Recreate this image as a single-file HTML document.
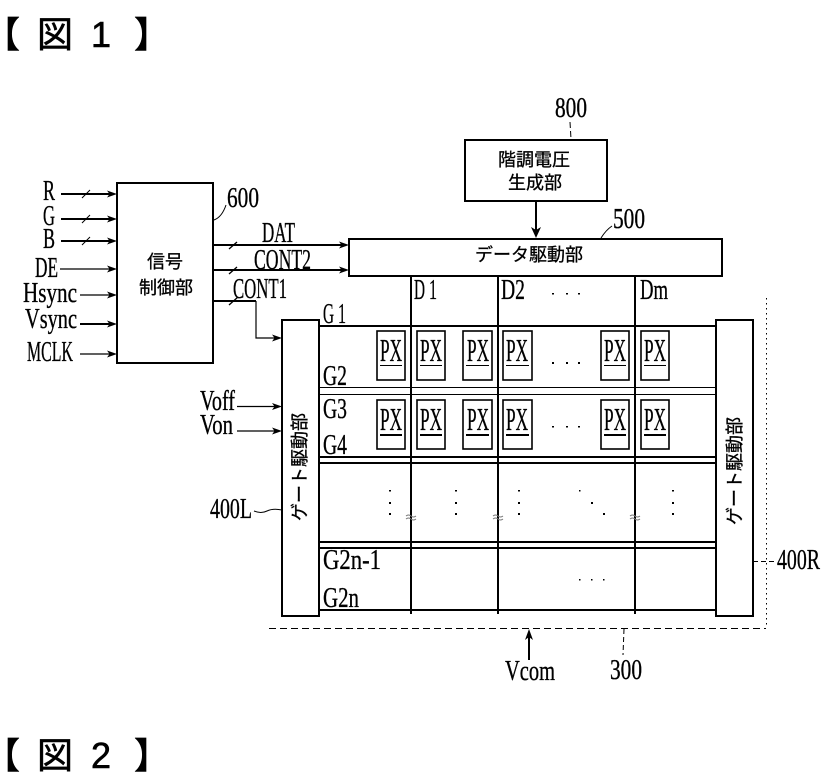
<!DOCTYPE html>
<html><head><meta charset="utf-8"><style>
html,body{margin:0;padding:0;background:#fff}
svg{display:block}
.l{font-family:"Liberation Serif",serif;font-size:29px;fill:#000;stroke:#000;stroke-width:.35px}
.j{font-family:"Liberation Sans","Noto Sans CJK JP",sans-serif;font-size:18px;fill:#000;stroke:#000;stroke-width:.3px;text-anchor:middle}
.t{font-family:"Liberation Sans","Noto Sans CJK JP",sans-serif;font-size:36px;fill:#000;stroke:#000;stroke-width:.6px;text-anchor:middle}
.p{font-family:"Liberation Serif",serif;font-size:32px;fill:#000;stroke:#000;stroke-width:.3px}
</style></head><body>
<svg width="824" height="783" viewBox="0 0 824 783" xmlns="http://www.w3.org/2000/svg">
<rect width="824" height="783" fill="#fff"/>
<!-- titles -->
<text class="t" x="2" y="47">【</text><text class="t" x="55" y="47">図</text><text class="t" x="101" y="47">1</text><text class="t" x="152" y="47">】</text>
<text class="t" x="2" y="768">【</text><text class="t" x="55" y="768">図</text><text class="t" x="101" y="768">2</text><text class="t" x="152" y="768">】</text>

<g fill="none" stroke="#000" stroke-width="2">
<rect x="117" y="183" width="96" height="180"/>
<rect x="465" y="140" width="142" height="61"/>
<rect x="349" y="239" width="373" height="37"/>
<rect x="282" y="320" width="37" height="296"/>
<rect x="716" y="320" width="37" height="296"/>
<!-- data lines -->
<path d="M411 276V614M498 276V614M635 276V614"/>
<!-- gate lines -->
<path d="M319 326H716M319 457H716M319 463H716M319 542H716M319 548H716M319 610H716"/>
<path d="M319 387.5H716M319 394.5H716" stroke-width="1"/>
<!-- px boxes -->
<g stroke-width="1.6">
<rect x="377" y="331" width="28" height="49"/><rect x="417" y="331" width="28" height="49"/><rect x="463" y="331" width="29" height="49"/><rect x="503" y="331" width="29" height="49"/><rect x="601" y="331" width="28" height="49"/><rect x="641" y="331" width="28" height="49"/>
<rect x="377" y="400" width="28" height="49"/><rect x="417" y="400" width="28" height="49"/><rect x="463" y="400" width="29" height="49"/><rect x="503" y="400" width="29" height="49"/><rect x="601" y="400" width="28" height="49"/><rect x="641" y="400" width="28" height="49"/>
</g>
<g stroke-width="1"><path d="M380 365.500H402M420 365.500H442M466 365.500H489M506 365.500H529M604 365.500H626M644 365.500H666"/></g>
<path d="M380 435H402M420 435H442M466 435H489M506 435H529M604 435H626M644 435H666"/>
<!-- inputs -->
<path d="M61 194H110M61 219H110M61 241H110M80 324H110"/>
<path d="M60 269H110M80 295H110M80 354H110" stroke-width="1.200"/>
<path d="M237 406.500H276M237 431H276" stroke-width="1.200"/>
<path d="M82 198L90 190M82 223L90 215M82 245L90 237" stroke-width="1"/>
<!-- outputs -->
<path d="M213 245H344M213 270H344M213 301H256"/>
<path d="M256 301V338H276" stroke-width="1.200"/>
<path d="M229 249L237 242M229 274L237 267M229 305L238 297" stroke-width="1.300"/>
<path d="M536 201V232"/>
<path d="M529 660V636"/>
</g>
<!-- arrowheads -->
<g fill="#000">
<path d="M117 194l-10-3.500 2.500 3.500-2.500 3.500zM117 219l-10-3.500 2.500 3.500-2.500 3.500zM117 241l-10-3.500 2.500 3.500-2.500 3.500zM117 269l-10-3.500 2.500 3.500-2.500 3.500zM117 295l-10-3.500 2.500 3.500-2.500 3.500zM117 324l-10-3.500 2.500 3.500-2.500 3.500zM117 354l-10-3.500 2.500 3.500-2.500 3.500z"/>
<path d="M282 338l-10-3.500 2.500 3.500-2.500 3.500zM282 406.500l-10-3.500 2.500 3.500-2.500 3.500zM282 431l-10-3.500 2.500 3.500-2.500 3.500z"/>
<path d="M349 245l-10-3.500 2.500 3.500-2.500 3.500zM349 270l-10-3.500 2.500 3.500-2.500 3.500z"/>
<path d="M536 238l-5-11 5 3 5-3z"/>
<path d="M529 629l-4 11 4-3 4 3z"/>
</g>
<!-- dashed frame and leaders -->
<g fill="none" stroke="#000" stroke-width="1">
<path d="M269 628.500H766" stroke-dasharray="7 4"/>
<path d="M766.500 298V628" stroke-dasharray="1.500 3.500"/>
<path d="M624 629L623 655" stroke-dasharray="5 3"/>
<path d="M753 561.500H774" stroke-dasharray="5 3"/>
<path d="M214 220Q222 217 226 205"/>
<path d="M570 122L571 139" stroke-dasharray="6 3"/>
<path d="M601 238Q606 230 612 226"/>
<path d="M254 511Q261 514 267 511T282 510"/>
<path d="M406 516q2.500-2 5 0t5 0M406 519q2.500-2 5 0t5 0M493 516q2.500-2 5 0t5 0M493 519q2.500-2 5 0t5 0M630 516q2.500-2 5 0t5 0M630 519q2.500-2 5 0t5 0" stroke="#777"/>
</g>
<!-- dots -->
<g fill="#000">
<path d="M552 293h2v1.500h-2zM566 293h2v1.500h-2zM578 293h2v1.500h-2zM552 362h2v2h-2zM566 362h2v2h-2zM578 362h2v2h-2zM552 426h2v1.500h-2zM566 426h2v1.500h-2zM578 426h2v1.500h-2z"/>
<path d="M389 490h2v1.500h-2zM389 502h2v2h-2zM389 513h2v2h-2zM455 490h2v1.500h-2zM455 502h2v2h-2zM455 513h2v2h-2zM518 490h2v1.500h-2zM518 502h2v2h-2zM518 513h2v2h-2zM672 490h2v1.500h-2zM672 502h2v2h-2zM672 513h2v2h-2z"/>
<path d="M579 490h1.500v1.500h-1.500zM591 502h2v2h-2zM603 513h2v2h-2zM579 579h1.500v1.500h-1.500zM591 579h1.500v1.500h-1.500zM603 579h1.500v1.500h-1.500z"/>
</g>
<!-- latin labels -->
<text class="l" x="43" y="200" textLength="12" lengthAdjust="spacingAndGlyphs">R</text>
<text class="l" x="43" y="225" textLength="12" lengthAdjust="spacingAndGlyphs">G</text>
<text class="l" x="43" y="248" textLength="12" lengthAdjust="spacingAndGlyphs">B</text>
<text class="l" x="35" y="277" textLength="23" lengthAdjust="spacingAndGlyphs">DE</text>
<text class="l" x="23" y="302" textLength="54" lengthAdjust="spacingAndGlyphs">Hsync</text>
<text class="l" x="25" y="328" textLength="52" lengthAdjust="spacingAndGlyphs">Vsync</text>
<text class="l" x="27" y="361" textLength="46" lengthAdjust="spacingAndGlyphs">MCLK</text>
<text class="l" x="227" y="207" textLength="32" lengthAdjust="spacingAndGlyphs">600</text>
<text class="l" x="262" y="242" textLength="33" lengthAdjust="spacingAndGlyphs">DAT</text>
<text class="l" x="254" y="269" textLength="57" lengthAdjust="spacingAndGlyphs">CONT2</text>
<text class="l" x="233" y="298" textLength="54" lengthAdjust="spacingAndGlyphs">CONT1</text>
<text class="l" x="414" y="299" textLength="11" lengthAdjust="spacingAndGlyphs">D</text><text class="l" x="429" y="299" textLength="8" lengthAdjust="spacingAndGlyphs">1</text>
<text class="l" x="501" y="299" textLength="24" lengthAdjust="spacingAndGlyphs">D2</text>
<text class="l" x="640" y="299" textLength="28" lengthAdjust="spacingAndGlyphs">Dm</text>
<text class="l" x="323" y="323" textLength="11" lengthAdjust="spacingAndGlyphs">G</text><text class="l" x="338" y="323" textLength="8" lengthAdjust="spacingAndGlyphs">1</text>
<text class="l" x="323" y="385" textLength="24" lengthAdjust="spacingAndGlyphs">G2</text>
<text class="l" x="323" y="418" textLength="24" lengthAdjust="spacingAndGlyphs">G3</text>
<text class="l" x="323" y="454" textLength="24" lengthAdjust="spacingAndGlyphs">G4</text>
<text class="l" x="323" y="569" textLength="58" lengthAdjust="spacingAndGlyphs">G2n-1</text>
<text class="l" x="323" y="607" textLength="36" lengthAdjust="spacingAndGlyphs">G2n</text>
<text class="l" x="200" y="410" textLength="35" lengthAdjust="spacingAndGlyphs">Voff</text>
<text class="l" x="200" y="434" textLength="33" lengthAdjust="spacingAndGlyphs">Von</text>
<text class="l" x="210" y="518" textLength="42" lengthAdjust="spacingAndGlyphs">400L</text>
<text class="l" x="777" y="569" textLength="43" lengthAdjust="spacingAndGlyphs">400R</text>
<text class="l" x="505" y="680" textLength="50" lengthAdjust="spacingAndGlyphs">Vcom</text>
<text class="l" x="610" y="679" textLength="32" lengthAdjust="spacingAndGlyphs">300</text>
<text class="l" x="555" y="117" textLength="32" lengthAdjust="spacingAndGlyphs">800</text>
<text class="l" x="613" y="228" textLength="32" lengthAdjust="spacingAndGlyphs">500</text>
<!-- PX -->
<text class="p" x="380" y="361" textLength="22" lengthAdjust="spacingAndGlyphs">PX</text>
<text class="p" x="420" y="361" textLength="22" lengthAdjust="spacingAndGlyphs">PX</text>
<text class="p" x="467" y="361" textLength="22" lengthAdjust="spacingAndGlyphs">PX</text>
<text class="p" x="506" y="361" textLength="22" lengthAdjust="spacingAndGlyphs">PX</text>
<text class="p" x="604" y="361" textLength="22" lengthAdjust="spacingAndGlyphs">PX</text>
<text class="p" x="644" y="361" textLength="22" lengthAdjust="spacingAndGlyphs">PX</text>
<text class="p" x="380" y="430" textLength="22" lengthAdjust="spacingAndGlyphs">PX</text>
<text class="p" x="420" y="430" textLength="22" lengthAdjust="spacingAndGlyphs">PX</text>
<text class="p" x="467" y="430" textLength="22" lengthAdjust="spacingAndGlyphs">PX</text>
<text class="p" x="506" y="430" textLength="22" lengthAdjust="spacingAndGlyphs">PX</text>
<text class="p" x="604" y="430" textLength="22" lengthAdjust="spacingAndGlyphs">PX</text>
<text class="p" x="644" y="430" textLength="22" lengthAdjust="spacingAndGlyphs">PX</text>
<!-- japanese -->
<text class="j" x="534" y="166">階調電圧</text>
<text class="j" x="535" y="189">生成部</text>
<text class="j" x="529" y="261">データ駆動部</text>
<text class="j" x="165" y="268">信号</text>
<text class="j" x="166" y="294">制御部</text>
<text class="j" transform="translate(306,467) rotate(-90)">ゲート駆動部</text>
<text class="j" transform="translate(741,471) rotate(-90)">ゲート駆動部</text>
</svg>
</body></html>
